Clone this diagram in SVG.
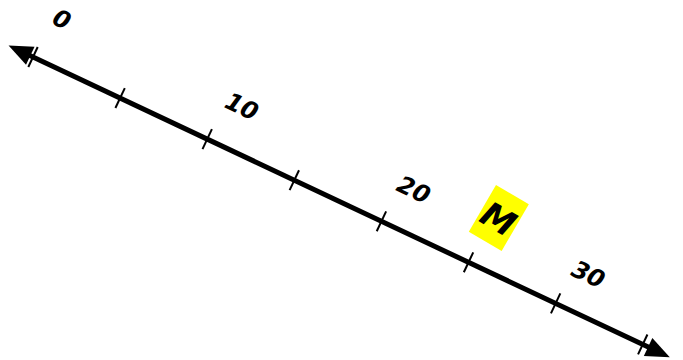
<svg xmlns="http://www.w3.org/2000/svg" width="683" height="360" viewBox="0 0 683 360">
<style>
.lbl{font-family:"DejaVu Sans",sans-serif;font-weight:bold;font-style:italic;font-size:24px;fill:#000;text-anchor:middle}
.tick{stroke:#000;stroke-width:2}
</style>
<rect width="683" height="360" fill="#fff"/>
<g transform="translate(33,57) rotate(25.24)">
  <line x1="-10" y1="0" x2="686" y2="0" stroke="#000" stroke-width="5"/>
  <polygon points="-27,0 -3,-10 -3,10" fill="#000"/>
  <polygon points="704,0 680,-10 680,10" fill="#000"/>
  <g class="tick">
    <line x1="0" y1="-11" x2="0" y2="11"/>
    <line x1="96.3" y1="-11" x2="96.3" y2="11"/>
    <line x1="192.6" y1="-11" x2="192.6" y2="11"/>
    <line x1="288.9" y1="-11" x2="288.9" y2="11"/>
    <line x1="385.2" y1="-11" x2="385.2" y2="11"/>
    <line x1="481.5" y1="-11" x2="481.5" y2="11"/>
    <line x1="577.8" y1="-11" x2="577.8" y2="11"/>
    <line x1="674.1" y1="-11" x2="674.1" y2="11"/>
  </g>
  <text class="lbl" x="10" y="-38">0</text>
  <text class="lbl" x="210" y="-36">10</text>
  <text class="lbl" x="401" y="-34">20</text>
  <text class="lbl" x="595" y="-32">30</text>
  <g transform="translate(490,-53) rotate(5)">
    <rect x="-19" y="-27" width="38" height="54" fill="#ffff00"/>
    <text class="lbl" x="0" y="13" style="font-size:34px">M</text>
  </g>
</g>
</svg>
